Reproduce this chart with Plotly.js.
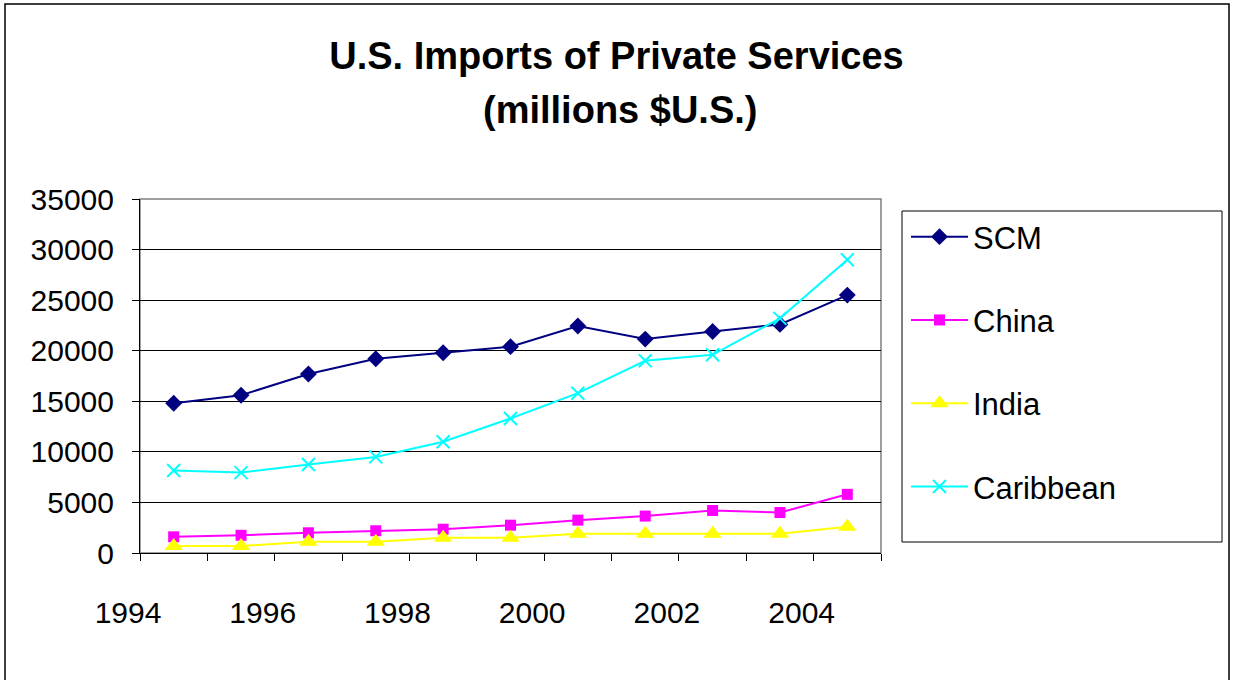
<!DOCTYPE html>
<html>
<head>
<meta charset="utf-8">
<script src="https://cdn.plot.ly/plotly-3.0.1.min.js"></script>
<style>
  html, body { margin: 0; padding: 0; background: #ffffff; }
  #chart { width: 1233px; height: 680px; }
</style>
</head>
<body>
<div id="chart"></div>
<script>
// ---- Data ----
const years = [1994, 1995, 1996, 1997, 1998, 1999, 2000, 2001, 2002, 2003, 2004];
const scm       = [14800, 15600, 17700, 19200, 19800, 20400, 22450, 21150, 21900, 22600, 25500];
const china     = [1600, 1750, 2000, 2200, 2350, 2750, 3250, 3650, 4200, 4000, 5800];
const india     = [700, 700, 1100, 1100, 1500, 1500, 1900, 1900, 1900, 1900, 2600];
const caribbean = [8150, 7950, 8750, 9500, 11000, 13300, 15800, 19000, 19600, 23200, 29000];
const seriesNames = ['SCM', 'China', 'India', 'Caribbean'];
const xTickVals  = [1994, 1995, 1996, 1997, 1998, 1999, 2000, 2001, 2002, 2003, 2004, 2005];
const xTickText  = ['1994', '', '1996', '', '1998', '', '2000', '', '2002', '', '2004', ''];
const yTickVals  = [0, 5000, 10000, 15000, 20000, 25000, 30000, 35000];
const yTickText  = ['0', '5000', '10000', '15000', '20000', '25000', '30000', '35000'];

// points sit in the middle of each year interval
const xPos = years.map(y => y + 0.5);

const FONT = 'Arial, "Liberation Sans", sans-serif';

function trace(name, values, color, symbol, size, group) {
  const isX = symbol === 'x-thin-open';
  return {
    type: 'scatter',
    mode: 'lines+markers',
    name: name,
    legendgroup: group,
    x: xPos,
    y: values,
    line: { color: color, width: 2 },
    marker: {
      symbol: symbol,
      size: size,
      color: color,
      line: isX ? { color: color, width: 2 } : { width: 0 }
    },
    hoverinfo: 'x+y+name'
  };
}

const data = [
  trace(seriesNames[0], scm, '#000080', 'diamond', 13, 'g1'),
  trace(seriesNames[1], china, '#FF00FF', 'square', 11, 'g2'),
  trace(seriesNames[2], india, '#FFFF00', 'triangle-up', 16, 'g3'),
  trace(seriesNames[3], caribbean, '#00FFFF', 'x-thin-open', 13, 'g4')
];

const layout = {
  width: 1233,
  height: 680,
  paper_bgcolor: '#ffffff',
  plot_bgcolor: '#ffffff',
  font: { family: FONT, size: 30, color: '#000000' },
  margin: { l: 140, r: 352, t: 199, b: 127, pad: 0 },
  title: {
    text: '<b>U.S. Imports of Private Services</b>',
    font: { family: FONT, size: 38, color: '#000000' },
    x: 0.5, xanchor: 'center',
    y: 1 - 56 / 680, yanchor: 'middle',
    xref: 'container', yref: 'container'
  },
  annotations: [{
    text: '<b>(millions $U.S.)</b>',
    xref: 'paper', yref: 'paper',
    x: (620 - 140) / 741, y: (553 - 110) / 354,
    xanchor: 'center', yanchor: 'middle',
    showarrow: false,
    font: { family: FONT, size: 38, color: '#000000' }
  }],
  xaxis: {
    type: 'linear',
    range: [1994, 2005],
    tickmode: 'array',
    tickvals: xTickVals,
    ticktext: xTickText,
    ticks: 'outside',
    ticklen: 7,
    tickwidth: 1,
    tickcolor: '#000000',
    showline: true,
    linecolor: '#000000',
    linewidth: 1,
    showgrid: false,
    zeroline: false,
    ticklabelshift: -12,
    ticklabelstandoff: 26,
    tickfont: { family: FONT, size: 30, color: '#000000' },
    fixedrange: true
  },
  yaxis: {
    range: [0, 35000],
    tickmode: 'array',
    tickvals: yTickVals,
    ticktext: yTickText,
    ticks: 'outside',
    ticklen: 7,
    tickwidth: 1,
    tickcolor: '#000000',
    showline: true,
    linecolor: '#000000',
    linewidth: 1,
    showgrid: true,
    gridcolor: '#000000',
    gridwidth: 1,
    zeroline: false,
    ticklabelstandoff: 12,
    tickfont: { family: FONT, size: 30, color: '#000000' },
    fixedrange: true
  },
  showlegend: true,
  legend: {
    x: (906 - 140) / 741,
    y: (553 - 210) / 354,
    xanchor: 'left',
    yanchor: 'top',
    traceorder: 'grouped',
    tracegroupgap: 40,
    itemwidth: 57,
    bgcolor: 'rgba(0,0,0,0)',
    borderwidth: 0,
    font: { family: FONT, size: 31, color: '#000000' }
  },
  shapes: [
    // plot area border (grey)
    { type: 'rect', xref: 'paper', yref: 'paper', x0: 0, x1: 1, y0: 0, y1: 1,
      line: { color: '#808080', width: 1.5 }, layer: 'below' },
    // legend box
    { type: 'rect', xref: 'paper', yref: 'paper',
      x0: (902 - 140) / 741, x1: (1222 - 140) / 741,
      y0: (553 - 542) / 354, y1: (553 - 211) / 354,
      line: { color: '#000000', width: 1 } },
    // outer chart border
    { type: 'rect', xref: 'paper', yref: 'paper',
      x0: (5 - 140) / 741, x1: (1229 - 140) / 741,
      y0: (553 - 700) / 354, y1: (553 - 4) / 354,
      line: { color: '#000000', width: 1.5 } }
  ]
};

Plotly.newPlot('chart', data, layout, { displayModeBar: false, staticPlot: true });
</script>
</body>
</html>
